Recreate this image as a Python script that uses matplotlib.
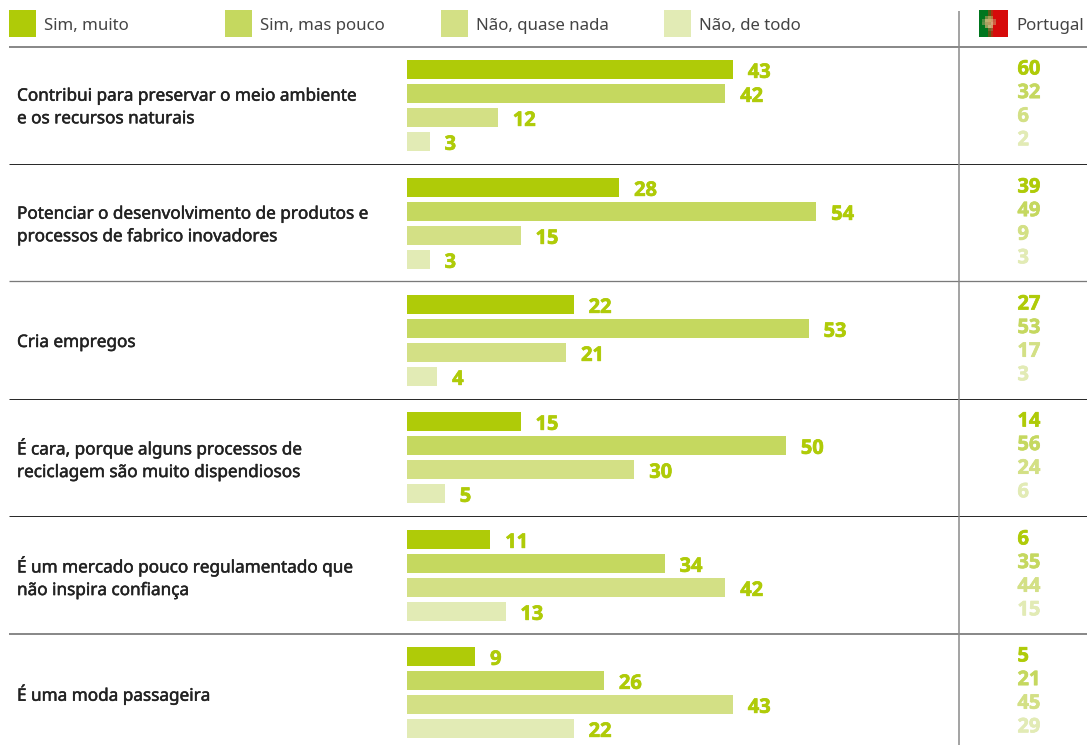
import numpy as np
import matplotlib
matplotlib.use("Agg")
import matplotlib.pyplot as plt
import matplotlib.patheffects as pe
from matplotlib.patches import Rectangle

W, H = 1087, 745

questions = [
    "Contribui para preservar o meio ambiente\ne os recursos naturais",
    "Potenciar o desenvolvimento de produtos e\nprocessos de fabrico inovadores",
    "Cria empregos",
    "É cara, porque alguns processos de\nreciclagem são muito dispendiosos",
    "É um mercado pouco regulamentado que\nnão inspira confiança",
    "É uma moda passageira",
]
series_names = ["Sim, muito", "Sim, mas pouco", "Não, quase nada", "Não, de todo"]
series_colors = ["#AFCB08", "#C5D85F", "#D3E085", "#E2EBB5"]

sim_muito = [43, 28, 22, 15, 11, 9]
sim_pouco = [42, 54, 53, 50, 34, 26]
nao_quase = [12, 15, 21, 30, 42, 43]
nao_todo = [3, 3, 4, 5, 13, 22]

pt_sim_muito = [60, 39, 27, 14, 6, 5]
pt_sim_pouco = [32, 49, 53, 56, 35, 21]
pt_nao_quase = [6, 9, 17, 24, 44, 45]
pt_nao_todo = [2, 3, 3, 6, 15, 29]

europe = [sim_muito, sim_pouco, nao_quase, nao_todo]
portugal = [pt_sim_muito, pt_sim_pouco, pt_nao_quase, pt_nao_todo]

TEXT_FONT = "Noto Sans"
NUM_FONT = "Open Sans"

fig = plt.figure(figsize=(W / 100, H / 100), dpi=100, facecolor="white")

# Page layer measured in pixels, top-left origin
page = fig.add_axes([0, 0, 1, 1])
page.set_xlim(0, W)
page.set_ylim(H, 0)
page.axis("off")

# Bar layer: x is the percentage, y is pixels
PX_PER_UNIT = 7.58
BAR_LEFT = 407
bars = fig.add_axes([BAR_LEFT / W, 0, (W - BAR_LEFT) / W, 1], zorder=2)
bars.set_xlim(0, (W - BAR_LEFT) / PX_PER_UNIT)
bars.set_ylim(H, 0)
bars.axis("off")
bars.patch.set_alpha(0)

rule_y = [47, 164, 281, 399, 516, 634]
row_tops = [47, 165, 282, 399, 517, 634]
rule_styles = [("#8A8A8A", 2.0), ("#2B2B2B", 1.0), ("#7A7A7A", 1.3),
               ("#2B2B2B", 1.0), ("#2B2B2B", 1.0), ("#8A8A8A", 2.0)]

for y, (color, lw) in zip(rule_y, rule_styles):
    page.plot([9, W], [y, y], color=color, lw=lw * 0.72, solid_capstyle="butt")
page.plot([959, 959], [11, H], color="#8A8A8A", lw=1.1, solid_capstyle="butt")

# Legend
legend_x = [9, 225, 441, 664]
for x, name, color in zip(legend_x, series_names, series_colors):
    page.add_patch(Rectangle((x, 10), 27, 27, fc=color, ec="none"))
    page.text(x + 35, 25.5, name, family=TEXT_FONT, fontsize=12.1, color="#444444",
              va="center", ha="left")

# Flag, a coarse low-resolution thumbnail
flag = np.zeros((9, 10, 3))
flag[:, :4] = np.array([0, 118, 30]) / 255
flag[:, 4:] = np.array([214, 10, 10]) / 255
flag[:, 3] = np.array([90, 90, 20]) / 255
flag[:, 4] = np.array([170, 50, 15]) / 255
for r, c, col in [(2, 2, "#6F8A40"), (2, 3, "#A09A50"), (2, 4, "#B87A40"), (3, 1, "#4F8A40"),
                  (3, 2, "#B8B070"), (3, 3, "#C8A868"), (3, 4, "#D09868"), (3, 5, "#C85A40"),
                  (4, 1, "#5F9048"), (4, 2, "#A8A060"), (4, 3, "#B89860"), (4, 4, "#D8A078"),
                  (4, 5, "#D06040"), (5, 2, "#90A058"), (5, 3, "#C0B078"), (5, 4, "#D09868"),
                  (6, 3, "#70682A"), (6, 4, "#A05830")]:
    flag[r, c] = matplotlib.colors.to_rgb(col)
page.imshow(flag, extent=(979, 1008, 37, 10), interpolation="nearest", aspect="auto", zorder=3)
page.set_xlim(0, W)
page.set_ylim(H, 0)
page.text(1016, 25.5, "Portugal", family=TEXT_FONT, fontsize=12.1, color="#444444",
          va="center", ha="left")


def heavier(width, color):
    return [pe.withStroke(linewidth=width, foreground=color)]


# Rows
BAR_H = 19
for i, (question, top) in enumerate(zip(questions, row_tops)):
    page.text(17, top + 61, question, family=TEXT_FONT, fontsize=12.35,
              color="#222222", va="center", ha="left", linespacing=1.55,
              path_effects=heavier(0.35, "#222222"))
    for j in range(4):
        yc = top + 22.5 + 24 * j
        value = europe[j][i]
        bars.barh(yc, value, height=BAR_H, color=series_colors[j], linewidth=0)
        bars.annotate(str(value), xy=(value, yc), xytext=(10.7, -2.4),
                      textcoords="offset points", family=NUM_FONT, weight="bold",
                      fontsize=14.4, color=series_colors[0], va="center", ha="left",
                      path_effects=heavier(0.5, series_colors[0]))
        py = top + 22.5 + 23.6 * j
        page.text(1017.5, py, str(portugal[j][i]), family=NUM_FONT, weight="bold",
                  fontsize=14.4, color=series_colors[j], va="center", ha="left",
                  path_effects=heavier(0.5, series_colors[j]))

fig.savefig("out.png", dpi=100, facecolor="white")
